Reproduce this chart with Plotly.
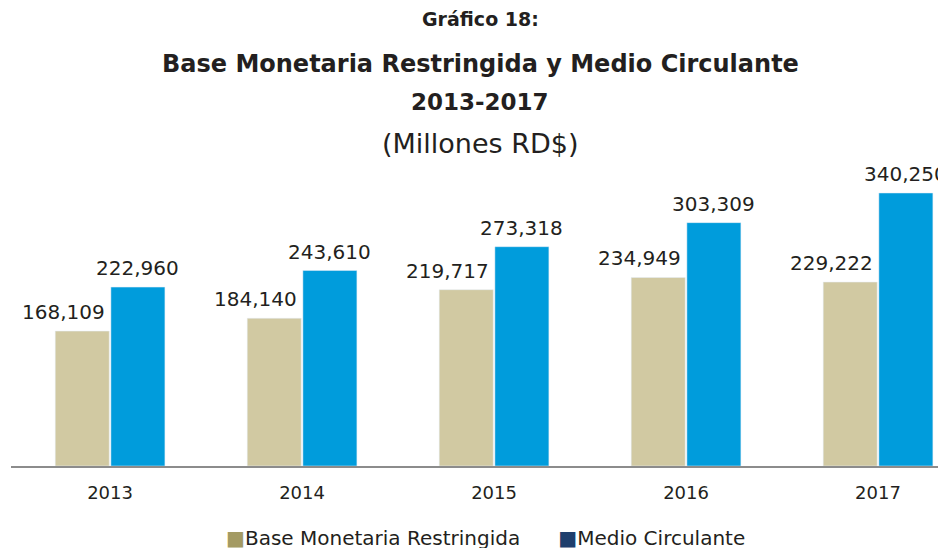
import plotly.graph_objects as go

years = ["2013", "2014", "2015", "2016", "2017"]
base_monetaria = [168109, 184140, 219717, 234949, 229222]
medio_circulante = [222960, 243610, 273318, 303309, 340250]

FONT = "DejaVu Sans"
TXT = "#231f20"

fig = go.Figure()
fig.add_trace(go.Bar(x=years, y=base_monetaria, name="Base Monetaria Restringida",
                     marker_color="#d1c9a2"))
fig.add_trace(go.Bar(x=years, y=medio_circulante, name="Medio Circulante",
                     marker_color="#009cdc"))

# value labels (category index used as x, since the year names look numeric)
for i, v in enumerate(base_monetaria):
    fig.add_annotation(x=i, y=v, text=f"{v:,}", showarrow=False, xshift=-47,
                       yanchor="bottom", yshift=5, font=dict(size=20, color=TXT, family=FONT))
for i, v in enumerate(medio_circulante):
    fig.add_annotation(x=i, y=v, text=f"{v:,}", showarrow=False, xshift=27,
                       yanchor="bottom", yshift=5, font=dict(size=20, color=TXT, family=FONT))

titles = [("<b>Gráfico 18:</b>", 19, 19), ("<b>Base Monetaria Restringida y Medio Circulante</b>", 64, 24),
          ("<b>2013-2017</b>", 102, 23), ("(Millones RD$)", 143, 27)]
for t, ypx, sz in titles:
    fig.add_annotation(xref="paper", yref="paper", x=(480 - 11) / 935, y=1 + (170 - ypx) / 296,
                       text=t, showarrow=False, yanchor="middle",
                       font=dict(size=sz, color=TXT, family=FONT))

# legend drawn as text, the original swatches are darker than the bars
legend_txt = ("<span style='color:#a39a63'>■</span>Base Monetaria Restringida"
              "      <span style='color:#1f3f6d'>■</span>Medio Circulante")
fig.add_annotation(xref="paper", yref="paper", x=(485 - 11) / 935, y=-(538 - 466) / 296,
                   text=legend_txt, showarrow=False, yanchor="middle",
                   font=dict(size=20, color=TXT, family=FONT))

# page has an 8px body margin, so the figure is drawn 8px smaller
fig.update_layout(
    width=938, height=540,
    margin=dict(l=3, r=0, t=162, b=82),
    paper_bgcolor="white", plot_bgcolor="white",
    barmode="group", bargap=0.42, bargroupgap=0.03,
    showlegend=False,
    font=dict(family=FONT, color=TXT),
    xaxis=dict(type="category", range=[-0.516, 4.354], showline=True, linecolor="#8c8c8c",
               linewidth=2, ticks="", ticklabelstandoff=9,
               tickfont=dict(size=18, color=TXT), showgrid=False),
    yaxis=dict(range=[0, 368900], visible=False, showgrid=False),
)

fig.write_html("out.html")
